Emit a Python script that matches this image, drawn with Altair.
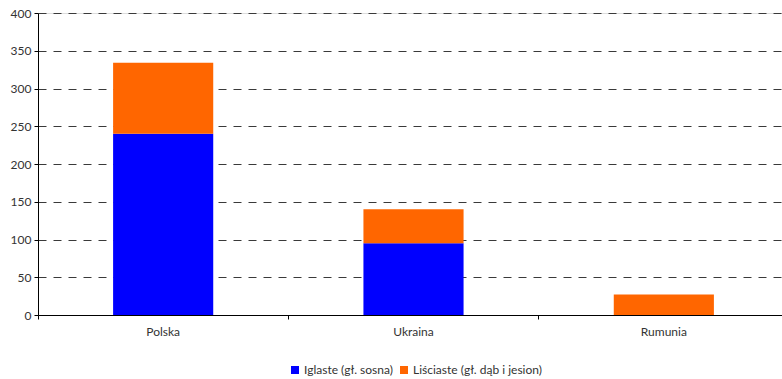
import altair as alt
import pandas as pd

# Wood volume by country, split into softwood and hardwood
countries = ["Polska", "Ukraina", "Rumunia"]
series = ["Iglaste (gł. sosna)", "Liściaste (gł. dąb i jesion)"]
softwood = [240, 95, 0]
hardwood = [94, 45, 27]
colors = ["#0000FF", "#FF6600"]
y_ticks = [0, 50, 100, 150, 200, 250, 300, 350, 400]

rows = []
for i, c in enumerate(countries):
    rows.append({"kraj": c, "typ": series[0], "wartosc": softwood[i], "kol": 0})
    rows.append({"kraj": c, "typ": series[1], "wartosc": hardwood[i], "kol": 1})
df = pd.DataFrame(rows)

FONT = "Lato"
TXT = "#333333"
FS = 12

x_scale = alt.Scale(domain=countries, range=[0, 751], paddingInner=0, paddingOuter=0)

bars = alt.Chart(df).mark_bar(width=alt.RelativeBandSize(0.4)).encode(
    x=alt.X("kraj:N", scale=x_scale, sort=countries, title=None,
            axis=alt.Axis(orient="bottom", ticks=False, domain=True, domainColor="#000000",
                          domainWidth=1, labelAngle=0, labelPadding=11, labelFontSize=FS,
                          labelFont=FONT, labelColor=TXT, grid=False)),
    y=alt.Y("wartosc:Q", stack="zero", title=None,
            scale=alt.Scale(domain=[0, 400], nice=False),
            axis=alt.Axis(values=y_ticks, grid=True, gridColor="#3a3a3a", gridDash=[8, 7],
                          gridWidth=1, domainColor="#000000", tickColor="#000000",
                          tickSize=4, labelFontSize=FS, labelFont=FONT, labelColor=TXT,
                          labelPadding=3)),
    color=alt.Color("typ:N", scale=alt.Scale(domain=series, range=colors), title=None,
                    legend=alt.Legend(orient="none", legendX=251, legendY=351,
                                      direction="horizontal", symbolType="square",
                                      symbolSize=64, symbolStrokeWidth=0,
                                      labelFontSize=FS, labelFont=FONT, labelColor=TXT,
                                      columnPadding=5, symbolOffset=0, labelOffset=3)),
    order=alt.Order("kol:Q"),
)

# Separate axis carrying the tick marks at the category boundaries
edge_ticks = alt.Chart(df).mark_rule(strokeOpacity=0).encode(
    x=alt.X("kraj:N", scale=x_scale, sort=countries, title=None,
            axis=alt.Axis(orient="bottom", labels=False, domain=False, ticks=True,
                          tickColor="#000000", tickSize=4, bandPosition=0, grid=False)),
    y=alt.value(0),
)

chart = alt.layer(bars, edge_ticks).resolve_axis(x="independent").properties(
    width=744,
    height=302,
    autosize=alt.AutoSizeParams(type="none"),
    padding={"left": 38, "top": 13, "right": 0, "bottom": 64},
).configure_view(stroke=None).configure(background="white")

chart.save("out.html", embed_options={"renderer": "svg", "actions": False})
